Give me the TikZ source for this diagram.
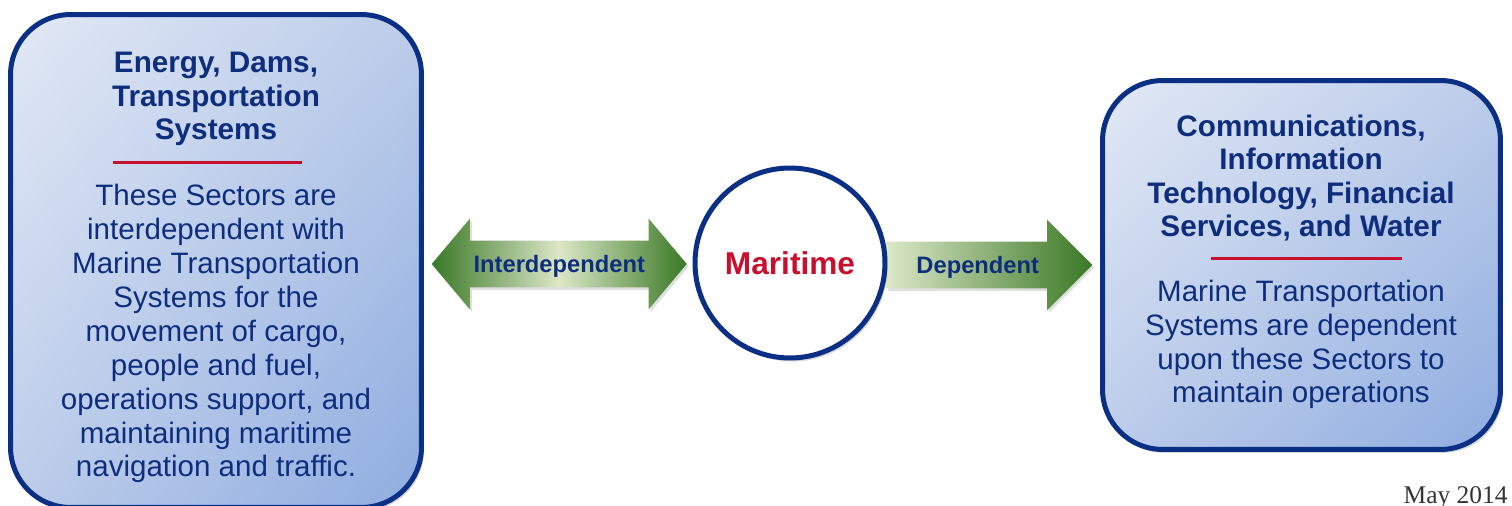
\documentclass[tikz,border=0pt]{standalone}
\usepackage{fontspec}
\setmainfont{Liberation Sans}
\newfontfamily\datefont{Liberation Serif}
\usetikzlibrary{
  positioning,
  calc,
  shapes.arrows,
  shadings,
  shadows,
  backgrounds
}
\definecolor{sectorNavy}{HTML}{0B2F85}
\definecolor{sectorText}{HTML}{0E2D7D}
\definecolor{sectorRed}{HTML}{C8102E}
\definecolor{boxLight}{HTML}{E2E9F5}
\definecolor{boxMid}{HTML}{BCCCEA}
\definecolor{boxDark}{HTML}{8EADE0}
\definecolor{arrowDark}{HTML}{3A7826}
\definecolor{arrowLight}{HTML}{DCE7C8}

\begin{document}
\begin{tikzpicture}[x=0.02cm, y=-0.02cm,
  sectorbox/.style={draw=sectorNavy, line width=0.1cm, rounded corners=1.2cm,
    upper left=boxLight, upper right=boxMid, lower left=boxMid, lower right=boxDark,
    drop shadow={shadow xshift=0.05cm, shadow yshift=-0.07cm, opacity=0.3}},
  titletext/.style={anchor=base, align=center, text=sectorText,
    font=\fontsize{16.9}{19.1}\selectfont\bfseries},
  bodytext/.style={anchor=base, align=center, text=sectorText,
    font=\fontsize{16.8}{19.3}\selectfont},
  redrule/.style={draw=sectorRed, line width=0.06cm},
  hub/.style={circle, draw=sectorNavy, line width=0.1cm, fill=white,
    minimum size=3.8cm, text=sectorRed, font=\fontsize{18}{20}\selectfont\bfseries,
    drop shadow={shadow xshift=0.05cm, shadow yshift=-0.07cm, opacity=0.3}},
  linktext/.style={text=sectorText, font=\fontsize{13.5}{15}\selectfont\bfseries,
    text height=0.34cm, text depth=0cm, inner xsep=0pt, inner ysep=0.29cm,
    drop shadow={shadow xshift=0.04cm, shadow yshift=-0.05cm, opacity=0.25}},
  twoway/.style={linktext, double arrow, minimum height=5.1cm,
    double arrow head extend=0.44cm, double arrow tip angle=100,
    left color=arrowDark, right color=arrowDark, middle color=arrowLight},
  oneway/.style={linktext, single arrow, minimum height=4.12cm,
    single arrow head extend=0.44cm, single arrow tip angle=90,
    left color=arrowLight, right color=arrowDark}
]
  \useasboundingbox (0,0) rectangle (1512,506);
  \clip (0,0) rectangle (1512,506);

  % sector boxes and the hub
  \node[sectorbox, minimum width=8.22cm, minimum height=9.86cm] (leftbox) at (216,261) {};
  \node[sectorbox, minimum width=7.96cm, minimum height=7.38cm] (rightbox) at (1301.5,265) {};
  \node[hub] (maritime) at (790,263) {Maritime};

  % left box text (base = last line)
  \node[titletext] (lefttitle) at (216,140) {Energy, Dams,\\Transportation\\Systems};
  \draw[redrule] (113,163) -- (302,163);
  \node[bodytext] (leftbody) at (216,477) {These Sectors are\\interdependent with\\Marine Transportation\\Systems for the\\movement of cargo,\\people and fuel,\\operations support, and\\maintaining maritime\\navigation and traffic.};

  % right box text
  \node[titletext] (righttitle) at (1301,237) {Communications,\\Information\\Technology, Financial\\Services, and Water};
  \draw[redrule] (1211,259) -- (1402,259);
  \node[bodytext] (rightbody) at (1301,403) {Marine Transportation\\Systems are dependent\\upon these Sectors to\\maintain operations};

  % links, kept under the hub
  \begin{scope}[on background layer]
    \node[twoway] (interlink) at ($(leftbox.east)!0.5!(maritime.west)+(1,2)$) {Interdependent};
    \node[oneway] (deplink) at ($(maritime.east)!0.5!(rightbox.west)+(-16,1)$) {Dependent};
  \end{scope}

  \node[anchor=base east, inner sep=0pt, text=black!80, font=\datefont\fontsize{14.5}{16}\selectfont] (datestamp) at (1508,503) {May 2014};
\end{tikzpicture}
\end{document}
